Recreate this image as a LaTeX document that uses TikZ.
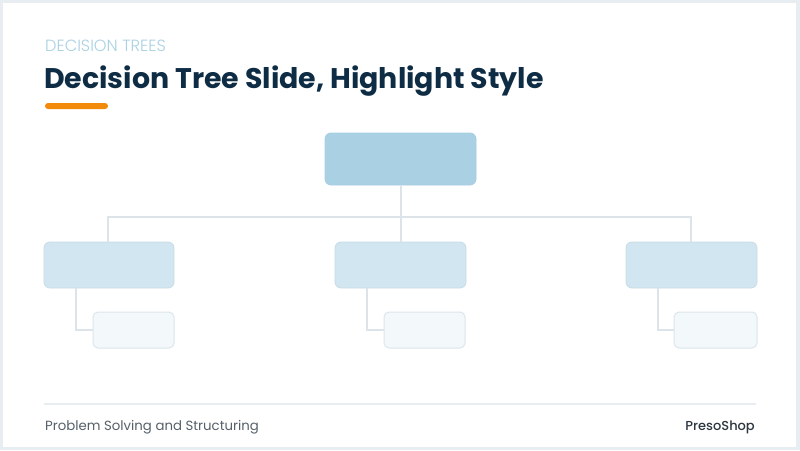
\documentclass[tikz,border=0pt]{standalone}
\usepackage{fontspec}
\setmainfont{Poppins}
\newfontfamily\poplight{Poppins Light}
\newfontfamily\popmed{Poppins Medium}
\definecolor{framebg}{HTML}{E8EDF1}
\definecolor{kicker}{HTML}{A9D1E2}
\definecolor{titlec}{HTML}{0E2D45}
\definecolor{accent}{HTML}{F28A0C}
\definecolor{rootfill}{HTML}{A9D0E3}
\definecolor{midfill}{HTML}{D1E6F0}
\definecolor{leaffill}{HTML}{F3F8FB}
\definecolor{leafdraw}{HTML}{DCE6EC}
\definecolor{linkc}{HTML}{DDE4E9}
\definecolor{footc}{HTML}{56606A}
\definecolor{brandc}{HTML}{2B3640}
\begin{document}
\begin{tikzpicture}[x=1pt,y=-1pt,
  rootbox/.style={draw=rootfill!95!black!20!rootfill,fill=rootfill,rounded corners=6pt,line width=0.8pt},
  midbox/.style={draw=midfill!90!gray,fill=midfill,rounded corners=6pt,line width=0.8pt},
  leafbox/.style={draw=leafdraw,fill=leaffill,rounded corners=5pt,line width=1pt},
  link/.style={draw=linkc,line width=2pt}]
\useasboundingbox (0,0) rectangle (800,450);
\fill[framebg] (0,0) rectangle (800,450);
\fill[white] (3,3) rectangle (796,447);
% header
\node[anchor=base west,inner sep=0pt,text=kicker,font=\poplight\fontsize{16.2}{18}\selectfont] (kick) at (45,51) {DECISION TREES};
\node[anchor=base west,inner sep=0pt,text=titlec,font=\bfseries\fontsize{28.4}{32}\selectfont] (title) at (44,88) {Decision Tree Slide, Highlight Style};
\fill[accent,rounded corners=3pt] (45,103) rectangle (108,109);
% tree boxes
\path[rootbox] (325,133) rectangle (476,185);
\coordinate (root) at (400.5,185);
\path[midbox] (44,242) rectangle (174,288);
\path[midbox] (335,242) rectangle (466,288);
\path[midbox] (626,242) rectangle (757,288);
\coordinate (m1t) at (108,242);
\coordinate (m2t) at (400.5,242);
\coordinate (m3t) at (691,242);
\coordinate (m1b) at (76,288);
\coordinate (m2b) at (367,288);
\coordinate (m3b) at (658,288);
\path[leafbox] (93,312) rectangle (174,348);
\path[leafbox] (384,312) rectangle (465,348);
\path[leafbox] (674,312) rectangle (757,348);
\coordinate (l1) at (93,330);
\coordinate (l2) at (384,330);
\coordinate (l3) at (674,330);
% connectors
\coordinate (bus) at (400.5,217);
\draw[link] (root) -- (m2t);
\draw[link] (m1t) |- (bus) -| (m3t);
\draw[link] (m1b) |- (l1);
\draw[link] (m2b) |- (l2);
\draw[link] (m3b) |- (l3);
% footer
\draw[draw=framebg,line width=2pt] (44,404) -- (756,404);
\node[anchor=base west,inner sep=0pt,text=footc,font=\fontsize{13.3}{15}\selectfont] (foot) at (45,430) {Problem Solving and Structuring};
\node[anchor=base east,inner sep=0pt,text=brandc,font=\popmed\fontsize{13}{15}\selectfont] (brand) at (755,430) {PresoShop};
\end{tikzpicture}
\end{document}
